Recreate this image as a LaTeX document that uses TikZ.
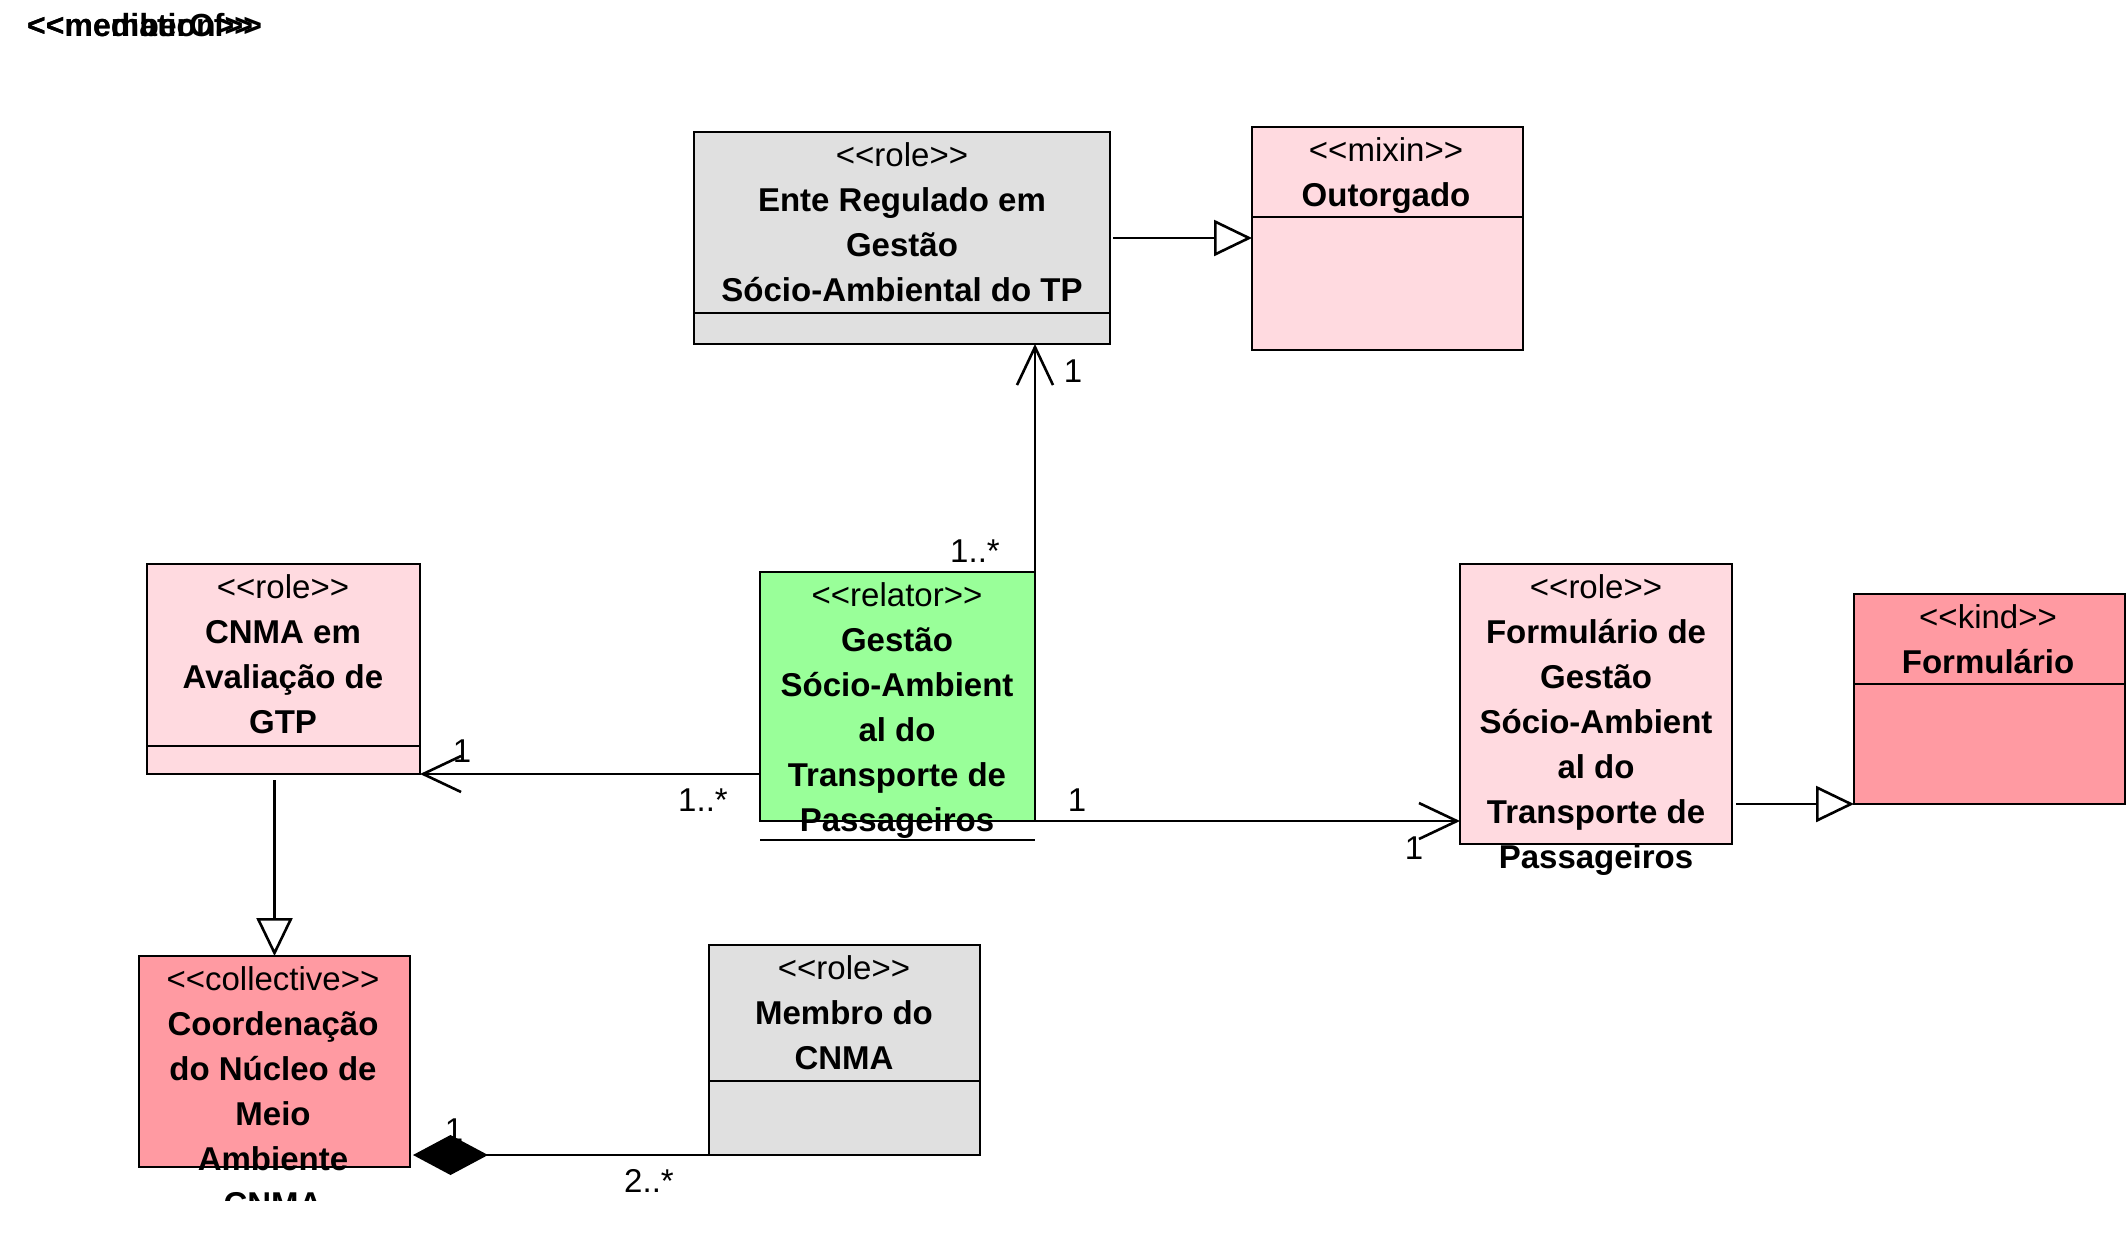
\documentclass[tikz,border=0pt]{standalone}
\usepackage{fontspec}
\setmainfont{Liberation Sans}[Ligatures=TeXOff]
\usetikzlibrary{arrows.meta}
\definecolor{rolegray}{HTML}{E0E0E0}
\definecolor{pinklight}{HTML}{FFDAE0}
\definecolor{relgreen}{HTML}{99FF99}
\definecolor{pinkdark}{HTML}{FF9AA2}
\newcommand\firststrut{\rule{0pt}{27pt}}
\begin{document}
\begin{tikzpicture}[x=1pt,y=-1pt,
  cls/.style={draw=black, line width=2.6pt, inner sep=0pt, outer sep=0pt, anchor=north west},
  txt/.style={font=\fontsize{33}{45}\selectfont, align=center, inner sep=0pt, anchor=north},
  lbl/.style={font=\fontsize{33}{40}\selectfont, inner sep=0pt},
  conn/.style={line width=2.6pt},
  med/.style={conn, -{Straight Barb[length=38pt,width=36pt]}},
  gen/.style={conn, -{Triangle[open,length=38pt,width=36pt,fill=white]}},
  comp/.style={conn, {Diamond[length=75pt,width=40pt]}-},
]
\useasboundingbox[fill=white] (0,0) rectangle (2127,1245);

% top-left overlapping stereotypes
\node[anchor=base west, inner sep=0pt, font=\fontsize{32}{40}\selectfont\bfseries] (st1) at (27,36) {<<mediation>>};
\node[anchor=base west, inner sep=0pt, font=\fontsize{32}{40}\selectfont\bfseries] (st2) at (27,36) {<<memberOf>>};

% classes
\node[cls, fill=rolegray, minimum width=416pt, minimum height=212pt] (ente) at (694,132) {};
\node[txt] (ente-t) at (902,139) {\firststrut<<role>>\\ \textbf{Ente Regulado em}\\ \textbf{Gestão}\\ \textbf{Sócio-Ambiental do TP}};
\draw[conn] ([yshift=31pt]ente.south west) -- ([yshift=31pt]ente.south east);

\node[cls, fill=pinklight, minimum width=271pt, minimum height=223pt] (outorgado) at (1252,127) {};
\node[txt] (outorgado-t) at (1386,134) {\firststrut<<mixin>>\\ \textbf{Outorgado}};
\draw[conn] ([yshift=133pt]outorgado.south west) -- ([yshift=133pt]outorgado.south east);

\node[cls, fill=relgreen, minimum width=275pt, minimum height=249pt] (rel) at (760,572) {};
\node[txt] (rel-t) at (897,579) {\firststrut<<relator>>\\ \textbf{Gestão}\\ \textbf{Sócio-Ambient}\\ \textbf{al do}\\ \textbf{Transporte de}\\ \textbf{Passageiros}};
\draw[conn] ([yshift=-19pt]rel.south west) -- ([yshift=-19pt]rel.south east);

\node[cls, fill=pinklight, minimum width=273pt, minimum height=210pt] (cnma) at (147,564) {};
\node[txt] (cnma-t) at (283,571) {\firststrut<<role>>\\ \textbf{CNMA em}\\ \textbf{Avaliação de}\\ \textbf{GTP}};
\draw[conn] ([yshift=28pt]cnma.south west) -- ([yshift=28pt]cnma.south east);

\node[cls, fill=pinklight, minimum width=272pt, minimum height=280pt] (fgest) at (1460,564) {};
\node[txt] (fgest-t) at (1596,571) {\firststrut<<role>>\\ \textbf{Formulário de}\\ \textbf{Gestão}\\ \textbf{Sócio-Ambient}\\ \textbf{al do}\\ \textbf{Transporte de}\\ \textbf{Passageiros}};

\node[cls, fill=pinkdark, minimum width=271pt, minimum height=210pt] (form) at (1854,594) {};
\node[txt] (form-t) at (1988,601) {\firststrut<<kind>>\\ \textbf{Formulário}};
\draw[conn] ([yshift=120pt]form.south west) -- ([yshift=120pt]form.south east);

\node[cls, fill=pinkdark, minimum width=271pt, minimum height=211pt] (coord) at (139,956) {};
\begin{scope}
  \clip (0,0) rectangle (2127,1200);
  \node[txt] (coord-t) at (273,963) {\firststrut<<collective>>\\ \textbf{Coordenação}\\ \textbf{do Núcleo de}\\ \textbf{Meio}\\ \textbf{Ambiente}\\ \textbf{CNMA}};
\end{scope}

\node[cls, fill=rolegray, minimum width=271pt, minimum height=210pt] (membro) at (709,945) {};
\node[txt] (membro-t) at (844,952) {\firststrut<<role>>\\ \textbf{Membro do}\\ \textbf{CNMA}};
\draw[conn] ([yshift=74pt]membro.south west) -- ([yshift=74pt]membro.south east);

% connectors
\draw[gen] ([xshift=3pt]ente.east) -- (ente.east -| outorgado.west);
\draw[med] (rel.north east) -- (rel.north east |- ente.south);
\draw[med] (rel.west |- cnma.south east) -- (cnma.south east);
\draw[med] (rel.south east) -- (rel.south east -| fgest.west);
\draw[gen] ([xshift=4pt]fgest.east |- form.south west) -- (form.south west);
\coordinate (cg) at ([yshift=-6pt]cnma.south);
\draw[gen] (cg -| coord.north) -- (coord.north);
\draw[comp] ([xshift=3pt]coord.east |- membro.south west) -- (membro.south west);

% multiplicities
\node[lbl] (m1) at (1073,371) {1};
\node[lbl] (m2) at (975,551) {1..*};
\node[lbl] (m3) at (462,751) {1};
\node[lbl] (m4) at (703,800) {1..*};
\node[lbl] (m5) at (1077,800) {1};
\node[lbl] (m6) at (1414,848) {1};
\node[lbl] (m7) at (454,1130) {1};
\node[lbl] (m8) at (649,1181) {2..*};
\end{tikzpicture}
\end{document}
